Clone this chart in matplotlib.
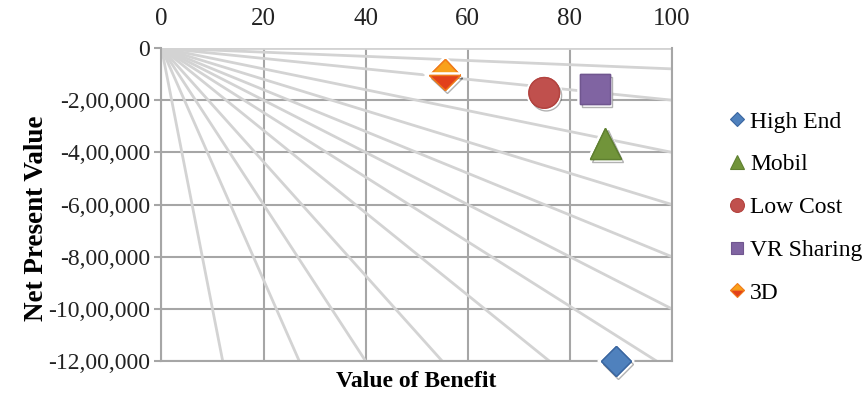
import matplotlib
matplotlib.use('Agg')
import matplotlib.pyplot as plt
from matplotlib.lines import Line2D
from matplotlib.ticker import FuncFormatter
import matplotlib.patheffects as pe

plt.rcParams['font.family'] = ['Liberation Serif', 'DejaVu Serif']

# projects: value of benefit vs net present value
series = ['High End', 'Mobil', 'Low Cost', 'VR Sharing', '3D']
benefit = [89, 87, 75, 85, 55.5]
npv = [-1200000, -365000, -172000, -157000, -103000]

# fan of guide lines from the origin
fan_right_npv = [0, -80000, -200000, -400000, -600000, -800000, -1000000]   # end at benefit = 100
fan_bottom_benefit = [97, 76, 55, 40, 27, 12]                                # end at npv = -12,00,000

x_ticks = [0, 20, 40, 60, 80, 100]
y_ticks = [0, -200000, -400000, -600000, -800000, -1000000, -1200000]

markers = ['D', '^', 'o', 's', 'D']
face = ['#4F81BD', '#71943A', '#C0504D', '#8064A2', '#F9A11B']
face_alt = ['#4F81BD', '#71943A', '#C0504D', '#8064A2', '#E2401A']
edge = ['#3A66A0', '#5F8030', '#B3433F', '#70568F', '#F07A1A']
sizes = [15.3, 22.5, 22, 21.6, 15.8]
legend_sizes = [7, 10, 10, 9, 7]


def indian_format(v, pos=None):
    n = int(round(abs(v)))
    s = str(n)
    if len(s) > 3:
        head, tail = s[:-3], s[-3:]
        groups = []
        while len(head) > 2:
            groups.insert(0, head[-2:])
            head = head[:-2]
        if head:
            groups.insert(0, head)
        s = ','.join(groups) + ',' + tail
    return ('-' if v < 0 else '') + s


fig = plt.figure(figsize=(8.68, 3.95), dpi=100)
ax = fig.add_axes([0.186, 0.086, 0.588, 0.7925])

fan_color = '#d3d3d3'
for y_end in fan_right_npv:
    ax.plot([0, 100], [0, y_end], color=fan_color, lw=2.0, zorder=2, solid_capstyle='butt')
for x_end in fan_bottom_benefit:
    ax.plot([0, x_end], [0, -1200000], color=fan_color, lw=2.0, zorder=2, solid_capstyle='butt')

shadow = [pe.withStroke(linewidth=4, foreground='white'),
          pe.SimpleLineShadow(offset=(1.5, -2), alpha=0.3, shadow_color='black'),
          pe.Normal()]

for i in range(len(series)):
    fill = 'top' if i == 4 else 'full'
    ax.plot(benefit[i], npv[i], marker=markers[i], ms=sizes[i], ls='none',
            markerfacecolor=face[i], markerfacecoloralt=face_alt[i], fillstyle=fill,
            markeredgecolor=edge[i], markeredgewidth=1.0, zorder=5, clip_on=False,
            path_effects=shadow)

ax.set_xlim(0, 100)
ax.set_ylim(-1200000, 0)
ax.xaxis.tick_top()
ax.set_xticks(x_ticks)
ax.set_yticks(y_ticks)
ax.yaxis.set_major_formatter(FuncFormatter(indian_format))
ax.tick_params(axis='x', length=0, labelsize=18, pad=13, colors='#222222')
ax.tick_params(axis='y', length=5, width=1.5, color='#a6a6a6', labelsize=17, pad=3,
               labelcolor='#222222')
ax.grid(True, color='#a6a6a6', linewidth=1.5, zorder=1)
ax.set_axisbelow(True)
for side in ax.spines:
    ax.spines[side].set_color('#a6a6a6')
    ax.spines[side].set_linewidth(1.5)
ax.spines['top'].set_visible(False)

ax.xaxis.set_label_position('bottom')
ax.set_xlabel('Value of Benefit', fontsize=17, fontweight='bold', labelpad=7)
ax.set_ylabel('Net Present Value', fontsize=19.5, fontweight='bold')
ax.yaxis.set_label_coords(-0.22, 0.457)

handles = []
for i in range(len(series)):
    fill = 'top' if i == 4 else 'full'
    handles.append(Line2D([], [], marker=markers[i], ms=legend_sizes[i], ls='none',
                          markerfacecolor=face[i], markerfacecoloralt=face_alt[i],
                          fillstyle=fill, markeredgecolor=edge[i], markeredgewidth=0.8,
                          label=series[i]))
ax.legend(handles=handles, loc='upper left', bbox_to_anchor=(730 / 868, 1 - 111 / 395),
          bbox_transform=fig.transFigure, frameon=False, fontsize=17,
          handlelength=0.6, handletextpad=0.25, labelspacing=0.9, borderaxespad=0,
          borderpad=0)

fig.savefig('out.png', dpi=100)
plt.close(fig)
